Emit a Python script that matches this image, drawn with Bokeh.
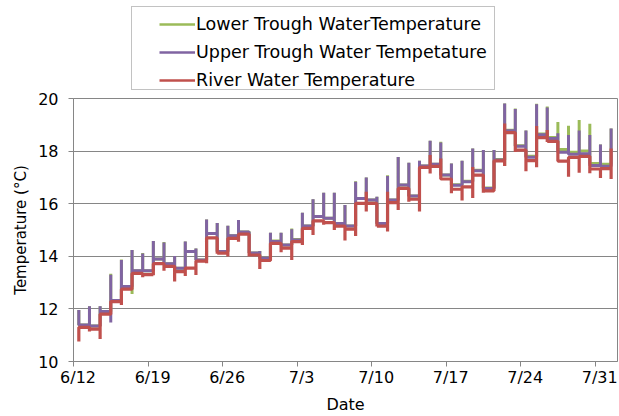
import numpy as np
from bokeh.plotting import figure
from bokeh.layouts import column
from bokeh.models import Legend, LegendItem, FixedTicker, Range1d
from bokeh.embed import file_html
from bokeh.resources import INLINE

# Date axis: days counted from 6/12, one labelled tick per week
tick_days = [0, 7, 14, 21, 28, 35, 42, 49]
tick_labels = ["6/12", "6/19", "6/26", "7/3", "7/10", "7/17", "7/24", "7/31"]
n_days = 51  # daily readings 6/12 .. 8/1, logged at midday

# Upper trough: daily spike top and the level held until the next reading
upper_peak = [11.96, 12.10, 12.10, 13.30, 13.86, 14.24, 14.11, 14.58, 14.52, 14.01,
              14.56, 14.30, 15.40, 15.27, 15.16, 15.38, 14.92, 14.20, 14.90, 14.90,
              15.03, 15.66, 16.17, 16.42, 16.42, 15.95, 16.83, 17.00, 16.26, 17.05,
              17.78, 17.56, 17.63, 18.39, 18.33, 17.53, 17.63, 18.10, 18.04, 18.04,
              19.81, 19.60, 18.78, 19.78, 19.66, 18.68, 18.61, 18.78, 18.61, 18.25,
              18.86]
upper_level = [11.39, 11.35, 11.90, 12.32, 12.85, 13.45, 13.45, 13.90, 13.72, 13.55,
               14.18, 13.86, 14.87, 14.18, 14.78, 14.92, 14.13, 13.93, 14.56, 14.43,
               14.62, 15.15, 15.51, 15.45, 15.25, 15.15, 16.20, 16.14, 15.25, 16.14,
               16.71, 16.29, 17.43, 17.50, 17.09, 16.70, 16.83, 17.25, 16.58, 17.66,
               18.77, 18.18, 17.77, 18.62, 18.48, 17.96, 17.88, 17.90, 17.45, 17.42]
upper_dips = {3: 11.48}

# Lower trough
lower_peak = [11.96, 12.10, 12.10, 13.34, 13.88, 14.24, 14.13, 14.58, 14.54, 14.01,
              14.56, 14.30, 15.40, 15.27, 15.16, 15.38, 14.95, 14.20, 14.90, 14.90,
              15.06, 15.66, 16.17, 16.42, 16.42, 15.95, 16.85, 17.00, 16.26, 17.08,
              17.78, 17.56, 17.63, 18.39, 18.36, 17.53, 17.63, 18.10, 18.04, 18.04,
              19.81, 19.62, 18.78, 19.80, 19.70, 19.11, 18.96, 19.18, 19.04, 18.25,
              18.86]
lower_level = [11.39, 11.35, 11.90, 12.32, 12.85, 13.45, 13.45, 13.90, 13.72, 13.55,
               14.18, 13.86, 14.87, 14.18, 14.78, 14.92, 14.13, 13.93, 14.58, 14.43,
               14.64, 15.15, 15.51, 15.45, 15.25, 15.15, 16.20, 16.14, 15.25, 16.14,
               16.71, 16.29, 17.43, 17.50, 17.09, 16.72, 16.85, 17.27, 16.60, 17.68,
               18.79, 18.20, 17.80, 18.65, 18.52, 18.06, 17.96, 18.00, 17.53, 17.50]
lower_dips = {5: 12.57, 40: 17.43}

# River: daily dip bottom, held level, and the few upward spikes
river_dip = [10.76, 11.14, 10.86, 11.80, 12.15, 12.75, 13.20, 13.28, 13.45, 13.04,
             13.25, 13.29, 13.74, 14.10, 13.99, 14.55, 13.99, 13.52, 13.84, 14.15,
             13.86, 14.43, 14.81, 15.20, 15.00, 14.60, 14.77, 15.70, 15.13, 14.94,
             15.76, 16.07, 15.70, 17.15, 16.96, 16.40, 16.12, 16.22, 16.42, 16.49,
             17.43, 17.97, 17.23, 17.39, 18.35, 17.62, 17.02, 17.18, 17.16, 16.98,
             16.94]
river_level = [11.30, 11.23, 11.80, 12.28, 12.75, 13.35, 13.30, 13.72, 13.62, 13.42,
               13.55, 13.82, 14.70, 14.12, 14.68, 14.84, 14.05, 13.84, 14.49, 14.31,
               14.56, 15.06, 15.35, 15.28, 15.15, 15.03, 16.01, 16.01, 15.15, 16.04,
               16.58, 16.17, 17.38, 17.42, 16.94, 16.55, 16.64, 17.09, 16.49, 17.63,
               18.70, 18.04, 17.64, 18.51, 18.37, 17.62, 17.76, 17.80, 17.32, 17.33]
river_spikes = {27: 16.45, 29: 16.45, 33: 17.85, 34: 17.72, 37: 17.40,
                40: 19.05, 43: 18.95, 44: 18.80, 50: 18.10}

reading_time = np.arange(n_days) + 0.5


def step_path(tops, bottoms, levels):
    """Vertical excursion at each reading, then hold the level until the next one."""
    xs, ys = [], []
    for d, t in enumerate(reading_time):
        for v in (tops.get(d), bottoms.get(d)):
            if v is not None:
                xs.append(t)
                ys.append(v)
        if d < len(levels):
            xs += [t, t + 1]
            ys += [levels[d], levels[d]]
    return xs, ys


def as_map(seq):
    return dict(enumerate(seq))


GREEN, PURPLE, RED, GRAY = "#9BBB59", "#8064A2", "#C0504D", "#868686"
FONT = "DejaVu Sans"
LABEL_SHIFT = 0.43  # date labels sit slightly right of their tick marks

# ---- legend strip above the plot (its frame lines up with the plot's frame) ----
head = figure(width=619, height=91, output_backend="svg", toolbar_location=None,
              x_range=Range1d(0, 1), y_range=Range1d(0, 1), min_border=0,
              x_axis_location=None, y_axis_location=None,
              background_fill_color="white", border_fill_color="white")
head.outline_line_color = None
head.xgrid.visible = False
head.ygrid.visible = False

# single off-range points: these only lend their line style to the legend keys
k_box = head.line([2], [2], line_alpha=0)
k_low = head.line([2], [2], line_color=GREEN, line_width=2.5)
k_up = head.line([2], [2], line_color=PURPLE, line_width=2.5)
k_riv = head.line([2], [2], line_color=RED, line_width=2.5)

legend_box = Legend(items=[LegendItem(label=" ", renderers=[k_box])],
                    location=(58, 1), padding=0, spacing=0, margin=0,
                    glyph_width=1, glyph_height=82, label_standoff=0,
                    label_width=361, label_height=82,
                    border_line_color=GRAY, border_line_width=1,
                    background_fill_color="white", background_fill_alpha=1)
legend = Legend(items=[LegendItem(label="Lower Trough WaterTemperature", renderers=[k_low]),
                       LegendItem(label="Upper Trough Water Tempetature", renderers=[k_up]),
                       LegendItem(label="River Water Temperature", renderers=[k_riv])],
                location=(86, -3), padding=0, spacing=0, margin=0,
                glyph_width=36, glyph_height=28, label_height=28, label_standoff=1,
                label_text_font=FONT, label_text_font_size="17.5px",
                label_text_color="black",
                border_line_alpha=0, background_fill_alpha=0)
head.add_layout(legend_box)
head.add_layout(legend)

# ---- temperature plot ----
p = figure(width=619, height=325, output_backend="svg", toolbar_location=None,
           x_range=Range1d(0, 51.1), y_range=Range1d(10, 20),
           min_border_left=73, min_border_right=2, min_border_top=7,
           min_border_bottom=54, background_fill_color="white",
           border_fill_color="white")
p.outline_line_color = GRAY
p.outline_line_width = 1

lx, ly = step_path(as_map(lower_peak), lower_dips, lower_level)
ux, uy = step_path(as_map(upper_peak), upper_dips, upper_level)
rx, ry = step_path(river_spikes, as_map(river_dip), river_level)

p.line(lx, ly, line_color=GREEN, line_width=3, line_join="bevel")
p.line(ux, uy, line_color=PURPLE, line_width=3, line_join="bevel")
p.line(rx, ry, line_color=RED, line_width=3.2, line_join="bevel")

# weekly tick marks are drawn as minor ticks; the labels ride on offset major ticks
label_ticks = [d + LABEL_SHIFT for d in tick_days]
p.xaxis.ticker = FixedTicker(ticks=label_ticks, minor_ticks=tick_days)
p.xaxis.major_label_overrides = {t: s for t, s in zip(label_ticks, tick_labels)}
p.xaxis.major_tick_line_color = None
p.xaxis.major_tick_out = 5
p.xaxis.major_tick_in = 0
p.xaxis.minor_tick_line_color = GRAY
p.xaxis.minor_tick_out = 5
p.xaxis.minor_tick_in = 0
p.xaxis.axis_line_color = GRAY

p.yaxis.ticker = FixedTicker(ticks=[10, 12, 14, 16, 18, 20])
p.yaxis.axis_line_color = GRAY
p.yaxis.major_tick_line_color = GRAY
p.yaxis.minor_tick_line_color = None
p.yaxis.major_tick_in = 0
p.yaxis.major_tick_out = 5

p.xgrid.visible = False
p.ygrid.grid_line_color = GRAY
p.ygrid.grid_line_width = 1

for ax in (p.xaxis[0], p.yaxis[0]):
    ax.major_label_text_font = FONT
    ax.major_label_text_font_size = "16px"
    ax.major_label_text_color = "black"
    ax.axis_label_text_font = FONT
    ax.axis_label_text_font_style = "normal"
    ax.axis_label_text_color = "black"

p.xaxis.axis_label = "Date"
p.xaxis.axis_label_text_font_size = "16px"
p.xaxis.major_label_standoff = 1
p.xaxis.axis_label_standoff = 5
p.yaxis.axis_label = "Temperature (°C)"
p.yaxis.axis_label_text_font_size = "15px"
p.yaxis.major_label_standoff = 10
p.yaxis.axis_label_standoff = 5

layout = column(head, p, spacing=0)
open("out.html", "w").write(file_html(layout, INLINE))
